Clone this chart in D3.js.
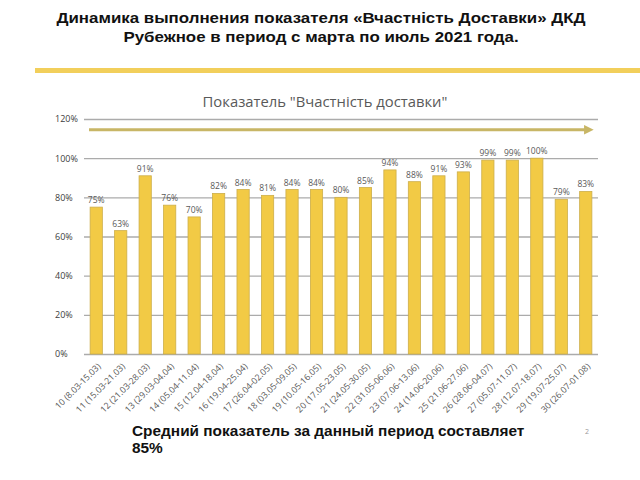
<!DOCTYPE html>
<html><head><meta charset="utf-8">
<script src="https://cdn.jsdelivr.net/npm/d3@7"></script>
<style>body{margin:0;background:#fff}svg{display:block}</style>
</head><body>
<svg id="c" width="640" height="480"></svg>
<script>
const categories = ["10 (8.03-15.03)","11 (15.03-21.03)","12 (21.03-28.03)","13 (29.03-04.04)","14  (05.04-11.04)","15  (12.04-18.04)","16 (19.04-25.04)","17 (26.04-02.05)","18 (03.05-09.05)","19  (10.05-16.05)","20 (17.05-23.05)","21 (24.05-30.05)","22  (31.05-06.06)","23 (07.06-13.06)","24 (14.06-20.06)","25 (21.06-27.06)","26 (28.06-04.07)","27 (05.07-11.07)","28 (12.07-18.07)","29 (19.07-25.07)","30 (26.07-01.08)"];
const values = [75,63,91,76,70,82,84,81,84,84,80,85,94,88,91,93,99,99,100,79,83];
const yTicks = [0,20,40,60,80,100,120];
const titleLines = ["Динамика выполнения показателя «Вчастність Доставки» ДКД","Рубежное в период с марта по июль 2021 года."];
const chartTitle = "Показатель \"Вчастність доставки\"";
const footerLines = ["Средний показатель за данный период составляет","85%"];

const svg = d3.select("#c");
const sansB = "Liberation Sans, Arial, sans-serif";
// header (slide text is slightly stretched horizontally)
svg.selectAll("text.t").data(titleLines).join("text")
  .attr("x",0).attr("y",0).attr("text-anchor","middle")
  .attr("transform",(d,i)=>`translate(321,${23+i*19}) scale(1.09,1)`)
  .attr("font-family",sansB).attr("font-weight","bold")
  .attr("font-size",15.5).attr("fill","#111").text(d=>d);
svg.append("line").attr("x1",35).attr("x2",640).attr("y1",70.5).attr("y2",70.5)
  .attr("stroke","#F2CF5B").attr("stroke-width",5);

const x = d3.scaleBand().domain(categories).range([84,598]).paddingInner(0.5).paddingOuter(0.25);
const y = d3.scaleLinear().domain([0,120]).range([354,119]);
const font = "Open Sans, Noto Sans, sans-serif";

svg.append("text").attr("x",325).attr("y",107).attr("text-anchor","middle")
  .attr("font-family",font).attr("font-size",14.8).attr("fill","#595959").text(chartTitle);

// grid
const ga = svg.append("g").attr("transform","translate(84,0)")
  .call(d3.axisLeft(y).tickValues(yTicks).tickSize(-514).tickFormat(d=>d+"%").tickPadding(10));
ga.select(".domain").remove();
ga.selectAll(".tick line").attr("stroke","#ababab").attr("stroke-width",1.3);
ga.selectAll(".tick text").attr("font-family",font).attr("font-size",9).attr("fill","#404040")
  .attr("text-anchor","start").attr("x",-29);

// arrow
const defs = svg.append("defs");
defs.append("marker").attr("id","ah").attr("viewBox","0 0 10 10").attr("refX",2).attr("refY",5)
  .attr("markerWidth",3.2).attr("markerHeight",3.2).attr("orient","auto")
  .append("path").attr("d","M0,0 L10,5 L0,10 Z").attr("fill","#C8B666");
svg.append("line").attr("x1",89).attr("x2",586).attr("y1",y(114.5)).attr("y2",y(114.5))
  .attr("stroke","#C8B666").attr("stroke-width",3).attr("marker-end","url(#ah)");

// bars
svg.selectAll("rect.bar").data(values).join("rect").attr("class","bar")
  .attr("x",(d,i)=>x(categories[i])).attr("width",x.bandwidth())
  .attr("y",d=>y(d)).attr("height",d=>y(0)-y(d))
  .attr("fill","#F2CA45").attr("stroke","#CDAE4A").attr("stroke-width",0.8);
svg.selectAll("text.val").data(values).join("text").attr("class","val")
  .attr("x",(d,i)=>x(categories[i])+x.bandwidth()/2).attr("y",d=>y(d)-4)
  .attr("text-anchor","middle").attr("font-family",font).attr("font-size",8.5).attr("fill","#595959")
  .text(d=>d+"%");

// x labels
const xa = svg.append("g").attr("transform","translate(0,354)")
  .call(d3.axisBottom(x).tickSize(0).tickPadding(0));
xa.select(".domain").remove();
xa.selectAll(".tick text").attr("font-family",font).attr("font-size",8.8).attr("fill","#595959")
  .attr("text-anchor","end").attr("dy",0)
  .attr("transform","translate(5,13) rotate(-45)");

// footer
svg.selectAll("text.f").data(footerLines).join("text")
  .attr("x",0).attr("y",0)
  .attr("transform",(d,i)=>`translate(132,${436+i*17}) scale(1.1,1)`)
  .attr("font-family",sansB).attr("font-weight","bold")
  .attr("font-size",14).attr("fill","#111").text(d=>d);
svg.append("text").attr("x",585).attr("y",434).attr("font-family",font).attr("font-size",7)
  .attr("fill","#999").text("2");
</script>
</body></html>
